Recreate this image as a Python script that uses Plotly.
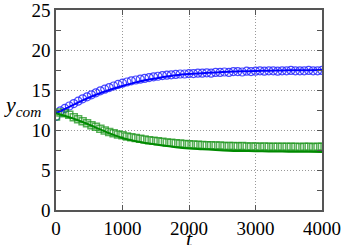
import plotly.graph_objects as go

# Line (model) curves, sampled every 200 in t
t_line = [0, 200, 400, 600, 800, 1000, 1200, 1400, 1600, 1800, 2000,
          2200, 2400, 2600, 2800, 3000, 3200, 3400, 3600, 3800, 4000]
blue_line = [12.1, 12.9, 13.7, 14.4, 15.0, 15.5, 15.95, 16.3, 16.6, 16.85, 17.0,
             17.1, 17.2, 17.28, 17.33, 17.38, 17.42, 17.45, 17.47, 17.48, 17.5]
green_line = [12.1, 11.6, 11.0, 10.3, 9.6, 9.0, 8.6, 8.3, 8.05, 7.85, 7.7,
              7.6, 7.5, 7.42, 7.38, 7.35, 7.32, 7.3, 7.28, 7.27, 7.26]

# Marker data, sampled every ~66.7 in t
t_pts = [0, 67, 133, 200, 267, 333, 400, 467, 533, 600, 667, 733, 800, 867, 933,
         1000, 1067, 1133, 1200, 1267, 1333, 1400, 1467, 1533, 1600, 1667, 1733,
         1800, 1867, 1933, 2000, 2067, 2133, 2200, 2267, 2333, 2400, 2467, 2533,
         2600, 2667, 2733, 2800, 2867, 2933, 3000, 3067, 3133, 3200, 3267, 3333,
         3400, 3467, 3533, 3600, 3667, 3733, 3800, 3867, 3933, 4000]
blue_pts = [11.7, 12.4, 12.7, 13.0, 13.3, 13.6, 13.9, 14.15, 14.4, 14.65, 14.9,
            15.1, 15.3, 15.5, 15.7, 15.85, 16.0, 16.15, 16.25, 16.35, 16.45,
            16.55, 16.65, 16.72, 16.8, 16.85, 16.9, 16.95, 17.0, 17.0, 17.05,
            17.05, 17.1, 17.1, 17.15, 17.1, 17.2, 17.2, 17.25, 17.2, 17.3,
            17.3, 17.25, 17.35, 17.3, 17.35, 17.4, 17.35, 17.4, 17.4, 17.35,
            17.4, 17.4, 17.45, 17.4, 17.4, 17.4, 17.45, 17.4, 17.4, 17.45]
green_pts = [11.7, 12.2, 12.1, 11.9, 11.6, 11.35, 11.1, 10.85, 10.6, 10.4, 10.15,
             9.95, 9.75, 9.6, 9.45, 9.35, 9.2, 9.1, 9.0, 8.9, 8.8, 8.72, 8.65,
             8.6, 8.52, 8.45, 8.4, 8.35, 8.3, 8.25, 8.22, 8.2, 8.15, 8.12, 8.1,
             8.1, 8.05, 8.05, 8.0, 8.0, 8.0, 7.98, 8.0, 7.95, 7.95, 7.95, 7.92,
             7.95, 7.9, 7.92, 7.9, 7.9, 7.92, 7.9, 7.9, 7.88, 7.9, 7.9, 7.88,
             7.9, 7.9]

x_ticks = [0, 1000, 2000, 3000, 4000]
y_ticks = [0, 5, 10, 15, 20, 25]

BLUE = "#0000ff"
GREEN = "#008a00"
SERIF = "Liberation Serif"

fig = go.Figure()
fig.add_trace(go.Scatter(x=t_pts, y=blue_pts, mode="markers",
                         marker=dict(symbol="circle-open", size=8,
                                     color="rgba(40,40,255,0.85)",
                                     line=dict(width=1.2))))
fig.add_trace(go.Scatter(x=t_pts, y=green_pts, mode="markers",
                         marker=dict(symbol="square-open", size=7,
                                     color="rgba(30,150,30,0.75)",
                                     line=dict(width=1.5))))
fig.add_trace(go.Scatter(x=t_line, y=blue_line, mode="lines",
                         line=dict(color=BLUE, width=2, shape="spline")))
fig.add_trace(go.Scatter(x=t_line, y=green_line, mode="lines",
                         line=dict(color=GREEN, width=2, shape="spline")))

axis_common = dict(showline=True, linecolor="#555", linewidth=1.5, mirror="ticks",
                   showgrid=True, gridcolor="#999", griddash="1px,2px", gridwidth=1,
                   ticks="inside", ticklen=5, tickcolor="#555", zeroline=False,
                   automargin=False, ticklabeloverflow="allow",
                   ticklabelstandoff=0)

fig.update_layout(
    width=341, height=245,
    margin=dict(l=56, r=19, t=10, b=35),
    paper_bgcolor="white", plot_bgcolor="white",
    showlegend=False,
    font=dict(family=SERIF, size=19, color="black"),
    xaxis=dict(range=[0, 4000], tickvals=x_ticks, ticktext=[str(v) for v in x_ticks],
               **axis_common),
    yaxis=dict(range=[0, 25], tickvals=y_ticks, ticktext=[str(v) for v in y_ticks],
               minor=dict(dtick=2.5, ticks="inside", ticklen=5, tickcolor="#555",
                          showgrid=False),
               **axis_common),
)
fig.add_annotation(text="<i>y</i><sub><i>com</i></sub>", xref="paper", yref="paper",
                   x=-0.125, y=0.52, showarrow=False, xanchor="center", yanchor="middle",
                   font=dict(family=SERIF, size=22, color="black"))
fig.add_annotation(text="<i>t</i>", xref="paper", yref="paper",
                   x=0.5, y=-0.215, showarrow=False, yanchor="bottom",
                   font=dict(family=SERIF, size=22, color="black"))

fig.write_html("out.html", config={"displayModeBar": False},
               post_script="document.body.style.margin='0';document.body.style.padding='0';")
